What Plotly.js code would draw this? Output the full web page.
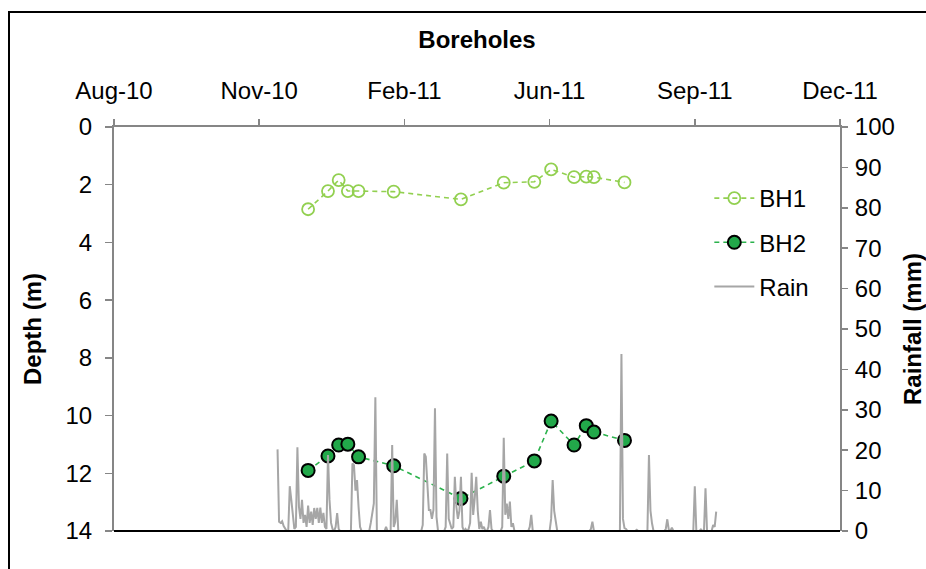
<!DOCTYPE html>
<html>
<head>
<meta charset="utf-8">
<script src="https://cdn.plot.ly/plotly-3.0.1.min.js"></script>
<style>html,body{margin:0;padding:0;background:#fff;}#chart{width:926px;height:569px;}</style>
</head>
<body>
<div id="chart"></div>
<script>
// ---- data ----
const tickDates = ['2010-08-21','2010-11-24','2011-02-27','2011-06-02','2011-09-05','2011-12-09'];
const tickLabels = ['Aug-10','Nov-10','Feb-11','Jun-11','Sep-11','Dec-11'];
const sampleDates = ['2010-12-26','2011-01-08','2011-01-15','2011-01-21','2011-01-28','2011-02-20','2011-04-05',
                     '2011-05-03','2011-05-23','2011-06-03','2011-06-18','2011-06-26','2011-07-01','2011-07-21'];
const bh1Depth = [2.85,2.22,1.84,2.22,2.22,2.24,2.51,1.93,1.90,1.47,1.74,1.72,1.74,1.92];
const bh2Depth = [11.90,11.40,11.02,10.99,11.43,11.74,12.87,12.10,11.57,10.19,11.02,10.35,10.57,10.86];
const rainStart = [2010, 11, 6]; // 6 Dec 2010, daily values follow
const rainMm = [
  20.2,2.3,2.0,2.4,1.2,0.5,0,0,11.1,7.7,
  3,0.5,1,20.7,6,3,7.7,2,4,1,
  6.3,2,4.8,1.5,5.7,3,5.7,2,5.8,2,
  4.5,1,0.5,18.8,7.7,2,0.5,0,1,4.4,
  0.5,0,0,0,0,0,0,0,0,16.7,
  16.3,10,12.6,6,1,0,0,0,0,0,
  0,2,5,6.8,33.1,0,0,0,0,0,
  0,1,0,0,0,21.3,1,2.3,7.7,0,
  0,0,0,0,0,0,0,0,0,0,
  0,0,0,0,0,1.5,19.2,18.4,10,5.2,
  5.2,3,5.2,30.4,3.5,0,0,0,0,0,
  1,19.2,3,1.5,0.5,1,13.4,6,3,5,
  13.4,1,0,0.5,0,0.5,2,14.4,4,8,
  13.4,5,0.5,2.3,0.5,1,0,0,1,5.2,
  0.5,0,0,0,0,0,0,1,23.1,4,
  6.8,3,7.3,1,1.9,0,0,0,0,0,
  0,0,0,0,0,1,4,0,0,0,
  0,0,0,0,0,0,0,0,0,3,
  12.6,5,1.9,0,0,0,0,0,0,0,
  0,0,0,0,0,0,0,0,0,0,
  0,0,0,0,0,0.5,2.3,0,0,0,
  0,0,0,0,0,0,0,0,0,0,
  0,0,0,0,0,43.8,3,0.7,0.5,0,
  0,0,0,0,0,0.3,0,0,0,0,
  0,0,0,18.8,5,1.9,0,0,0,0,
  0,0,0,0,0.5,2.9,0.3,0,0.8,0,
  0,0,0,0,0,0,0,0,0,0,
  0,0,0,11.1,0,0,0,0.4,0,0,
  10.6,0,0,0,0,1.5,1,4.8
];
const depthTicks = [0,2,4,6,8,10,12,14];
const rainTicks = [0,10,20,30,40,50,60,70,80,90,100];

const rainDates = rainMm.map((v, i) =>
  new Date(Date.UTC(rainStart[0], rainStart[1], rainStart[2] + i)).toISOString().slice(0, 10));

const FONT = 'Liberation Sans, Arial, sans-serif';
const FS = 24;
const AXIS_GREY = '#868686';

const traces = [
  {
    x: sampleDates, y: bh1Depth, name: 'BH1', type: 'scatter', mode: 'lines+markers',
    legendgroup: 'a',
    line: {color: '#92D050', width: 1.6, dash: '5px,4px'},
    marker: {symbol: 'circle-open', size: 12, color: '#92D050', line: {width: 1.8, color: '#92D050'}}
  },
  {
    x: sampleDates, y: bh2Depth, name: 'BH2', type: 'scatter', mode: 'lines+markers',
    legendgroup: 'b',
    line: {color: '#2BB24C', width: 1.6, dash: '5px,4px'},
    marker: {symbol: 'circle', size: 13, color: '#22A84A', line: {width: 2, color: '#000'}}
  },
  {
    x: rainDates, y: rainMm, name: 'Rain', type: 'scatter', mode: 'lines',
    legendgroup: 'c', yaxis: 'y2',
    line: {color: '#A6A6A6', width: 2}
  }
];

const layout = {
  width: 926, height: 569,
  margin: {l: 114, r: 86, t: 127, b: 38},
  paper_bgcolor: '#fff', plot_bgcolor: 'rgba(0,0,0,0)',
  font: {family: FONT, size: FS, color: '#000'},
  showlegend: true,
  title: {text: '<b>Boreholes</b>', font: {family: FONT, size: FS, color: '#000'},
          x: 0.5, xref: 'paper', y: 1 - 40 / 569, yanchor: 'middle'},
  xaxis: {
    type: 'date', side: 'top', range: [tickDates[0], tickDates[tickDates.length - 1]],
    tickmode: 'array', tickvals: tickDates, ticktext: tickLabels,
    showgrid: false, zeroline: false, showline: true, linecolor: AXIS_GREY, linewidth: 2,
    ticks: 'outside', ticklen: 6, tickcolor: AXIS_GREY, tickwidth: 1.5,
    ticklabelstandoff: 10, tickfont: {family: FONT, size: FS}
  },
  yaxis: {
    range: [14, 0], tickmode: 'array', tickvals: depthTicks,
    showgrid: false, zeroline: false, showline: true, linecolor: AXIS_GREY, linewidth: 2,
    ticks: 'outside', ticklen: 7, tickcolor: AXIS_GREY, tickwidth: 1.5,
    ticklabelstandoff: 8, tickfont: {family: FONT, size: FS},
    title: {text: '<b>Depth (m)</b>', font: {family: FONT, size: FS}, standoff: 17}
  },
  yaxis2: {
    overlaying: 'y', side: 'right', range: [0, 100], tickmode: 'array', tickvals: rainTicks,
    showgrid: false, zeroline: false, showline: true, linecolor: AXIS_GREY, linewidth: 2,
    ticks: 'outside', ticklen: 6, tickcolor: AXIS_GREY, tickwidth: 1.5,
    ticklabelstandoff: 2, tickfont: {family: FONT, size: FS},
    title: {text: '<b>Rainfall (mm)</b>', font: {family: FONT, size: FS}, standoff: 25}
  },
  legend: {
    x: 0.82, xanchor: 'left', y: 1 - (176 - 127) / 404, yanchor: 'top',
    bgcolor: 'rgba(0,0,0,0)', font: {family: FONT, size: FS},
    traceorder: 'grouped', tracegroupgap: 10, itemwidth: 40
  },
  shapes: [
    {type: 'line', xref: 'paper', yref: 'paper', x0: 0, x1: 1, y0: 0, y1: 0,
     line: {color: '#000', width: 2}},
    {type: 'rect', xref: 'paper', yref: 'paper',
     x0: (9 - 114) / 726, x1: (940 - 114) / 726, y0: (531 - 590) / 404, y1: 1 + (127 - 12) / 404,
     line: {color: '#000', width: 2}, fillcolor: 'rgba(0,0,0,0)', layer: 'below'}
  ]
};

Plotly.newPlot('chart', traces, layout, {displayModeBar: false, staticPlot: true});
</script>
</body>
</html>
